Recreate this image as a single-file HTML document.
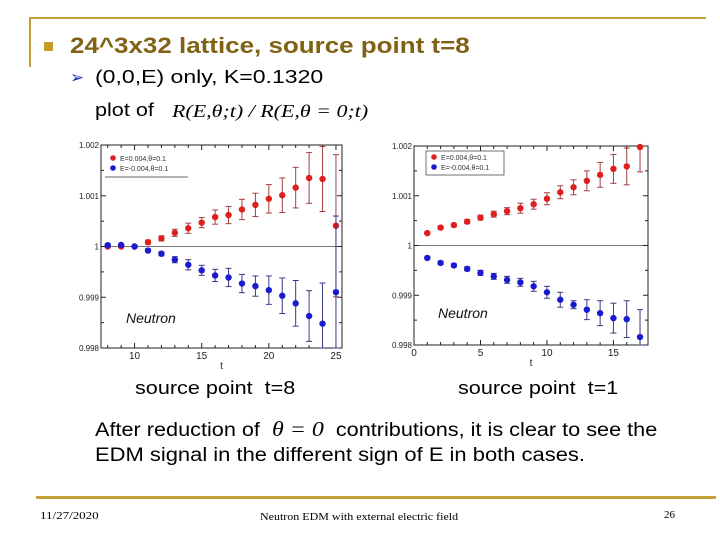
<!DOCTYPE html>
<html><head><meta charset="utf-8"><style>
body{margin:0;width:720px;height:540px;background:#fff;position:relative;overflow:hidden;font-family:"Liberation Sans",sans-serif}
.a{position:absolute;white-space:nowrap;transform-origin:0 0}
</style></head><body>
<div class="a" style="left:30px;top:17px;width:676px;height:2px;background:#c4a138"></div>
<div class="a" style="left:29px;top:17px;width:2px;height:50px;background:#c4a138"></div>
<div class="a" style="left:44px;top:42px;width:9px;height:9px;background:#c49a2a"></div>
<div class="a" style="left:70px;top:33px;font-size:22px;font-weight:bold;color:#7f6214;transform:scaleX(1.18)">24^3x32 lattice, source point t=8</div>
<div class="a" style="left:70px;top:68px;font-size:17px;color:#1a2fb0">➢</div>
<div class="a" style="left:95px;top:67px;font-size:18px;transform:scaleX(1.28)">(0,0,E) only, K=0.1320</div>
<div class="a" style="left:95px;top:100px;font-size:18px;transform:scaleX(1.2)">plot of</div>
<div class="a" style="left:172px;top:101px;font-size:18px;font-family:'Liberation Serif',serif;font-style:italic;transform:scaleX(1.22)">R(E,θ;t) / R(E,θ = 0;t)</div>
<svg class="a" style="left:0;top:0" width="720" height="540" id="charts"></svg>
<div class="a" style="left:135px;top:378px;font-size:18px;transform:scaleX(1.2)">source point &nbsp;t=8</div>
<div class="a" style="left:458px;top:378px;font-size:18px;transform:scaleX(1.2)">source point &nbsp;t=1</div>
<div class="a" style="left:95px;top:417px;font-size:19px;transform:scaleX(1.14)">After reduction of <span style="font-family:'Liberation Serif',serif;font-style:italic;font-size:21px">&nbsp;θ = 0&nbsp;</span> contributions, it is clear to see the</div>
<div class="a" style="left:95px;top:445px;font-size:19px;transform:scaleX(1.155)">EDM signal in the different sign of E in both cases.</div>
<div class="a" style="left:36px;top:496px;width:680px;height:3px;background:#c4a138"></div>
<div class="a" style="left:40px;top:510px;font-size:11px;font-family:'Liberation Serif',serif;transform:scaleX(1.18)">11/27/2020</div>
<div class="a" style="left:260px;top:511px;font-size:11px;font-family:'Liberation Serif',serif;transform:scaleX(1.09)">Neutron EDM with external electric field</div>
<div class="a" style="left:664px;top:509px;font-size:11px;font-family:'Liberation Serif',serif">26</div>
<script>
const t1=[8,9,10,11,12,13,14,15,16,17,18,19,20,21,22,23,24,25];
const red1=[1.0,1.0,1.0,1.000085,1.00016,1.00027,1.00036,1.00047,1.00058,1.00062,1.00073,1.00082,1.00094,1.00101,1.00116,1.00135,1.00133,1.00041];
const redErr1=[0.00002,0.00002,0.00002,0.00004,0.00005,0.00007,0.0001,0.0001,0.00014,0.00017,0.0002,0.00023,0.00028,0.00034,0.0004,0.0005,0.00064,0.0014];
const blue1=[1.000026,1.00003,1.0,0.99992,0.999857,0.99974,0.99964,0.99953,0.99943,0.99939,0.99927,0.99922,0.99914,0.99903,0.99888,0.99863,0.99848,0.9991];
const blueErr1=[0.00002,0.00002,0.00002,0.00003,0.00004,0.00006,0.0001,0.0001,0.00012,0.00018,0.00018,0.0002,0.00028,0.00035,0.00045,0.0005,0.0008,0.0015];
const t2=[1,2,3,4,5,6,7,8,9,10,11,12,13,14,15,16,17];
const red2=[1.00025,1.00036,1.00041,1.00048,1.00056,1.00063,1.00069,1.00075,1.00083,1.00094,1.00107,1.00117,1.0013,1.00142,1.00154,1.00159,1.00198];
const redErr2=[0.00002,0.00003,0.00003,0.00004,0.00005,0.00006,0.00007,0.0001,0.0001,0.00012,0.00013,0.00015,0.0002,0.00025,0.00029,0.00037,0.0005];
const blue2=[0.99975,0.99965,0.9996,0.99953,0.99945,0.99938,0.99931,0.99926,0.99918,0.99906,0.99891,0.99881,0.99871,0.99864,0.99854,0.99852,0.99816];
const blueErr2=[0.00002,0.00003,0.00003,0.00004,0.00005,0.00006,0.00007,0.00008,0.0001,0.00012,0.00015,0.00008,0.0002,0.00025,0.0003,0.00037,0.00055];
const yTicks=[0.998,0.999,1,1.001,1.002];
const yTickLabels=["0.998","0.999","1","1.001","1.002"];
const xTicks1=[10,15,20,25], xTicks2=[0,5,10,15];
const legend1=["E=0.004,θ=0.1","E=-0.004,θ=0.1"];
const legend2=["E=0.004,θ=0.1","E=-0.004,θ=0.1"];
const NS="http://www.w3.org/2000/svg";
const svg=document.getElementById('charts');
function el(tag,attrs,parent){const e=document.createElementNS(NS,tag);for(const k in attrs)e.setAttribute(k,attrs[k]);(parent||svg).appendChild(e);return e;}
function chart(cfg){
  const {L,R,T,B,xmin,xmax,t,red,rErr,blue,bErr,xTicks,legend,name,nx,ny}=cfg;
  const g=el('g',{});
  
  
  const X=v=>L+(v-xmin)/(xmax-xmin)*(R-L);
  const Y=v=>B-(v-0.998)/0.004*(B-T);
  el('rect',{x:L,y:T,width:R-L,height:B-T,fill:'#fff',stroke:'#222','stroke-width':1},g);
  const base=el('line',{x1:L,x2:R,y1:Y(1),y2:Y(1),stroke:'#777','stroke-width':1},g);
  
  
  yTicks.forEach((v,i)=>{
    el('line',{x1:L,x2:L+5,y1:Y(v),y2:Y(v),stroke:'#222'},g);
    el('line',{x1:R,x2:R-5,y1:Y(v),y2:Y(v),stroke:'#222'},g);
    if(i<yTicks.length-1){const m=Y(v+0.0005);el('line',{x1:L,x2:L+3,y1:m,y2:m,stroke:'#222'},g);el('line',{x1:R,x2:R-3,y1:m,y2:m,stroke:'#222'},g);}
    const tx=el('text',{x:L-2,y:Y(v)+3,'font-size':8,'text-anchor':'end',fill:'#222','font-family':'Liberation Sans'},g);
    tx.textContent=yTickLabels[i];
    
    
  });
  for(let v=Math.ceil(xmin);v<=xmax;v++){const big=xTicks.includes(v);el('line',{x1:X(v),x2:X(v),y1:B,y2:B-(big?5:3),stroke:'#222'},g);el('line',{x1:X(v),x2:X(v),y1:T,y2:T+(big?5:3),stroke:'#222'},g);}
  xTicks.forEach(v=>{const tx=el('text',{x:X(v),y:B+11,'font-size':10,'text-anchor':'middle',fill:'#222','font-family':'Liberation Sans'},g);tx.textContent=v;
    
    });
  const xl=el('text',{x:(L+R)/2,y:B+21,'font-size':10,'text-anchor':'middle',fill:'#222','font-family':'Liberation Sans'},g);xl.textContent='t';
  
  
  const nt=el('text',{x:nx,y:ny,'font-size':14,'font-style':'italic',fill:'#111','font-family':'Liberation Sans'},g);nt.textContent='Neutron';
  
  
  const clip=(v)=>Math.max(T,Math.min(B,v));
  [[red,rErr,'#e01e1e','#a04040','red-series'],[blue,bErr,'#1a1ad0','#3a3a80','blue-series']].forEach(([vals,errs,c,ec,nm])=>{
    const sg=el('g',{},g);
    
    
    t.forEach((tv,i)=>{
      const x=X(tv),y1=clip(Y(vals[i]+errs[i])),y2=clip(Y(vals[i]-errs[i]));
      el('line',{x1:x,x2:x,y1:y1,y2:y2,stroke:ec,'stroke-width':1},sg);
      el('line',{x1:x-3,x2:x+3,y1:y1,y2:y1,stroke:ec},sg);
      el('line',{x1:x-3,x2:x+3,y1:y2,y2:y2,stroke:ec},sg);
      const p=el('circle',{cx:x,cy:Y(vals[i]),r:3.2,fill:c},sg);
      
      
    });
  });
  const lg=el('g',{},g);
  
  
  const lx=L+(name==='chart-t8'?7:15),ly=T+(name==='chart-t8'?12:10);
  if(name!=='chart-t8')el('rect',{x:lx-3,y:ly-5,width:78,height:24,fill:'none',stroke:'#333','stroke-width':0.7},lg);
  else el('line',{x1:lx-3,x2:lx+80,y1:ly+20,y2:ly+20,stroke:'#333','stroke-width':0.7},lg);
  legend.forEach((s,i)=>{el('circle',{cx:lx+5,cy:ly+1+i*10,r:2.8,fill:i?'#1a1ad0':'#e01e1e'},lg);
    const tx=el('text',{x:lx+12,y:ly+4+i*10,'font-size':7,fill:'#333','font-family':'Liberation Sans'},lg);tx.textContent=s;
    
    });
}
chart({L:101,R:342,T:145,B:348,xmin:7.5,xmax:25.45,t:t1,red:red1,rErr:redErr1,blue:blue1,bErr:blueErr1,xTicks:xTicks1,legend:legend1,name:'chart-t8',nx:126,ny:323});
chart({L:414,R:648,T:146,B:345,xmin:0,xmax:17.6,t:t2,red:red2,rErr:redErr2,blue:blue2,bErr:blueErr2,xTicks:xTicks2,legend:legend2,name:'chart-t1',nx:438,ny:318});
</script>
</body></html>
